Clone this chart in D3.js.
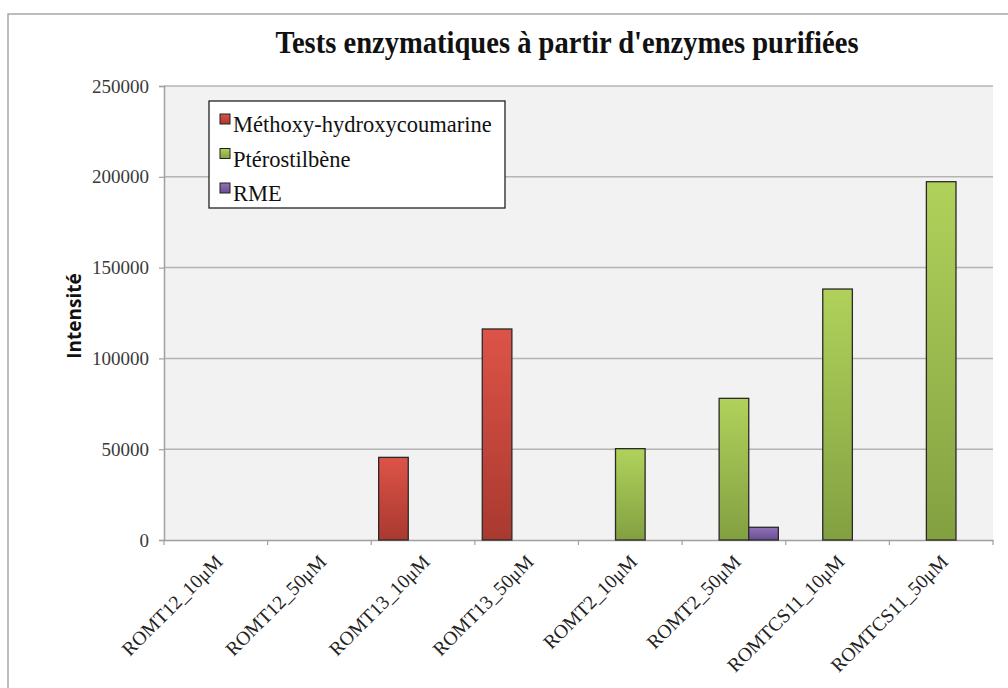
<!DOCTYPE html>
<html>
<head>
<meta charset="utf-8">
<script src="https://cdn.jsdelivr.net/npm/d3@7"></script>
<style>
  html, body { margin: 0; padding: 0; background: #ffffff; }
  svg { display: block; }
</style>
</head>
<body>
<svg id="chart" width="1008" height="688"></svg>
<script>
// Samples (enzyme + substrate concentration)
const categories = ["ROMT12_10\u03BCM", "ROMT12_50\u03BCM", "ROMT13_10\u03BCM", "ROMT13_50\u03BCM",
                    "ROMT2_10\u03BCM", "ROMT2_50\u03BCM", "ROMTCS11_10\u03BCM", "ROMTCS11_50\u03BCM"];
const seriesNames = ["Méthoxy-hydroxycoumarine", "Ptérostilbène", "RME"];
// Measured intensity per product
const methoxy   = [0, 0, 45500, 116200, 0, 0, 0, 0];
const pterostil = [0, 0, 0, 0, 50300, 78000, 138200, 197300];
const rme       = [0, 0, 0, 0, 0, 7000, 0, 0];
const yTicks = [0, 50000, 100000, 150000, 200000, 250000];

const seriesValues = [methoxy, pterostil, rme];
const colors = [
  { top: "#dd5348", bottom: "#a9392f" },
  { top: "#b0d25b", bottom: "#83a041" },
  { top: "#8f72b8", bottom: "#6a4e93" }
];
const SERIF = "'Liberation Serif', 'Times New Roman', serif";

const svg = d3.select("#chart");
const W = 1008, H = 688;

// Outer chart frame
svg.append("rect").attr("x", 8).attr("y", 14).attr("width", W + 20).attr("height", H + 20)
  .attr("fill", "#ffffff").attr("stroke", "#a8a8a8").attr("stroke-width", 1.5);

const plot = { left: 164, right: 993, top: 86, bottom: 540 };

const x = d3.scaleBand().domain(categories).range([plot.left, plot.right]).paddingInner(0).paddingOuter(0);
const y = d3.scaleLinear().domain([0, 250000]).range([plot.bottom, plot.top]);
// Three bars per category with a 150% gap between groups
const inner = d3.scaleBand().domain(d3.range(seriesNames.length))
  .range([0, x.bandwidth()]).paddingInner(0).paddingOuter(0.25);

// Gradients
const defs = svg.append("defs");
colors.forEach((c, i) => {
  const g = defs.append("linearGradient").attr("id", "grad" + i)
    .attr("x1", 0).attr("y1", 0).attr("x2", 0).attr("y2", 1);
  g.append("stop").attr("offset", "0%").attr("stop-color", c.top);
  g.append("stop").attr("offset", "100%").attr("stop-color", c.bottom);
});

// Plot background
svg.append("rect").attr("x", plot.left).attr("y", plot.top)
  .attr("width", plot.right - plot.left).attr("height", plot.bottom - plot.top)
  .attr("fill", "#f2f2f2");

// Horizontal gridlines
svg.append("g").selectAll("line").data(yTicks.filter(d => d > 0)).join("line")
  .attr("x1", plot.left).attr("x2", plot.right)
  .attr("y1", d => y(d)).attr("y2", d => y(d))
  .attr("stroke", "#b4b4b4").attr("stroke-width", 1.5);

// Y axis
const yAxis = svg.append("g").attr("transform", `translate(${plot.left},0)`)
  .call(d3.axisLeft(y).tickValues(yTicks).tickSize(5).tickPadding(10).tickFormat(d3.format("d")));
yAxis.attr("font-family", null).attr("font-size", null);
yAxis.select(".domain").attr("stroke", "#a0a0a0").attr("stroke-width", 1.5);
yAxis.selectAll(".tick line").attr("stroke", "#a0a0a0").attr("stroke-width", 1.2);
yAxis.selectAll(".tick text")
  .style("font-family", SERIF).style("font-size", "19px").attr("fill", "#3a3a3a");

// X axis
const xAxis = svg.append("g").attr("transform", `translate(0,${plot.bottom})`)
  .call(d3.axisBottom(x).tickSize(0).tickFormat(""));
xAxis.select(".domain").attr("stroke", "#a0a0a0").attr("stroke-width", 1.5);
// Category boundary ticks
svg.append("g").selectAll("line")
  .data(d3.range(categories.length + 1))
  .join("line")
  .attr("x1", i => plot.left + i * x.step()).attr("x2", i => plot.left + i * x.step())
  .attr("y1", plot.bottom).attr("y2", plot.bottom + 5)
  .attr("stroke", "#a0a0a0").attr("stroke-width", 1.2);

// Rotated category labels
svg.append("g").selectAll("text").data(categories).join("text")
  .attr("transform", d => `translate(${x(d) + x.bandwidth() / 2 + 8},${plot.bottom + 23}) rotate(-45)`)
  .attr("text-anchor", "end")
  .style("font-family", SERIF).style("font-size", "19.5px")
  .attr("fill", "#222222")
  .text(d => d);

// Bars
seriesValues.forEach((vals, si) => {
  svg.append("g").selectAll("rect")
    .data(vals.map((v, ci) => ({ v, c: categories[ci] })).filter(d => d.v > 0))
    .join("rect")
    .attr("x", d => x(d.c) + inner(si))
    .attr("width", inner.bandwidth())
    .attr("y", d => y(d.v))
    .attr("height", d => y(0) - y(d.v))
    .attr("fill", `url(#grad${si})`)
    .attr("stroke", "#2a2a2a").attr("stroke-width", 1.3);
});

// Title
svg.append("text").attr("x", 567).attr("y", 53)
  .attr("text-anchor", "middle")
  .attr("textLength", 583).attr("lengthAdjust", "spacingAndGlyphs")
  .style("font-family", SERIF).style("font-weight", "bold").style("font-size", "31px")
  .attr("fill", "#111111")
  .text("Tests enzymatiques à partir d'enzymes purifiées");

// Y axis title
svg.append("text")
  .attr("transform", `translate(81,316) rotate(-90)`)
  .attr("text-anchor", "middle")
  .style("font-family", "'Open Sans', 'DejaVu Sans', sans-serif")
  .style("font-weight", "bold").style("font-size", "19px")
  .attr("fill", "#111111")
  .text("Intensité");

// Legend
const legend = svg.append("g");
legend.append("rect").attr("x", 209).attr("y", 101).attr("width", 296).attr("height", 107)
  .attr("fill", "#ffffff").attr("stroke", "#222222").attr("stroke-width", 1.3);
seriesNames.forEach((name, i) => {
  const cy = 119 + i * 34.5;
  legend.append("rect").attr("x", 220).attr("y", cy - 5).attr("width", 10).attr("height", 10)
    .attr("fill", `url(#grad${i})`).attr("stroke", "#222222").attr("stroke-width", 1);
  legend.append("text").attr("x", 233).attr("y", cy + 13)
    .style("font-family", SERIF).style("font-size", "22.5px")
    .attr("fill", "#111111")
    .text(name);
});
</script>
</body>
</html>
